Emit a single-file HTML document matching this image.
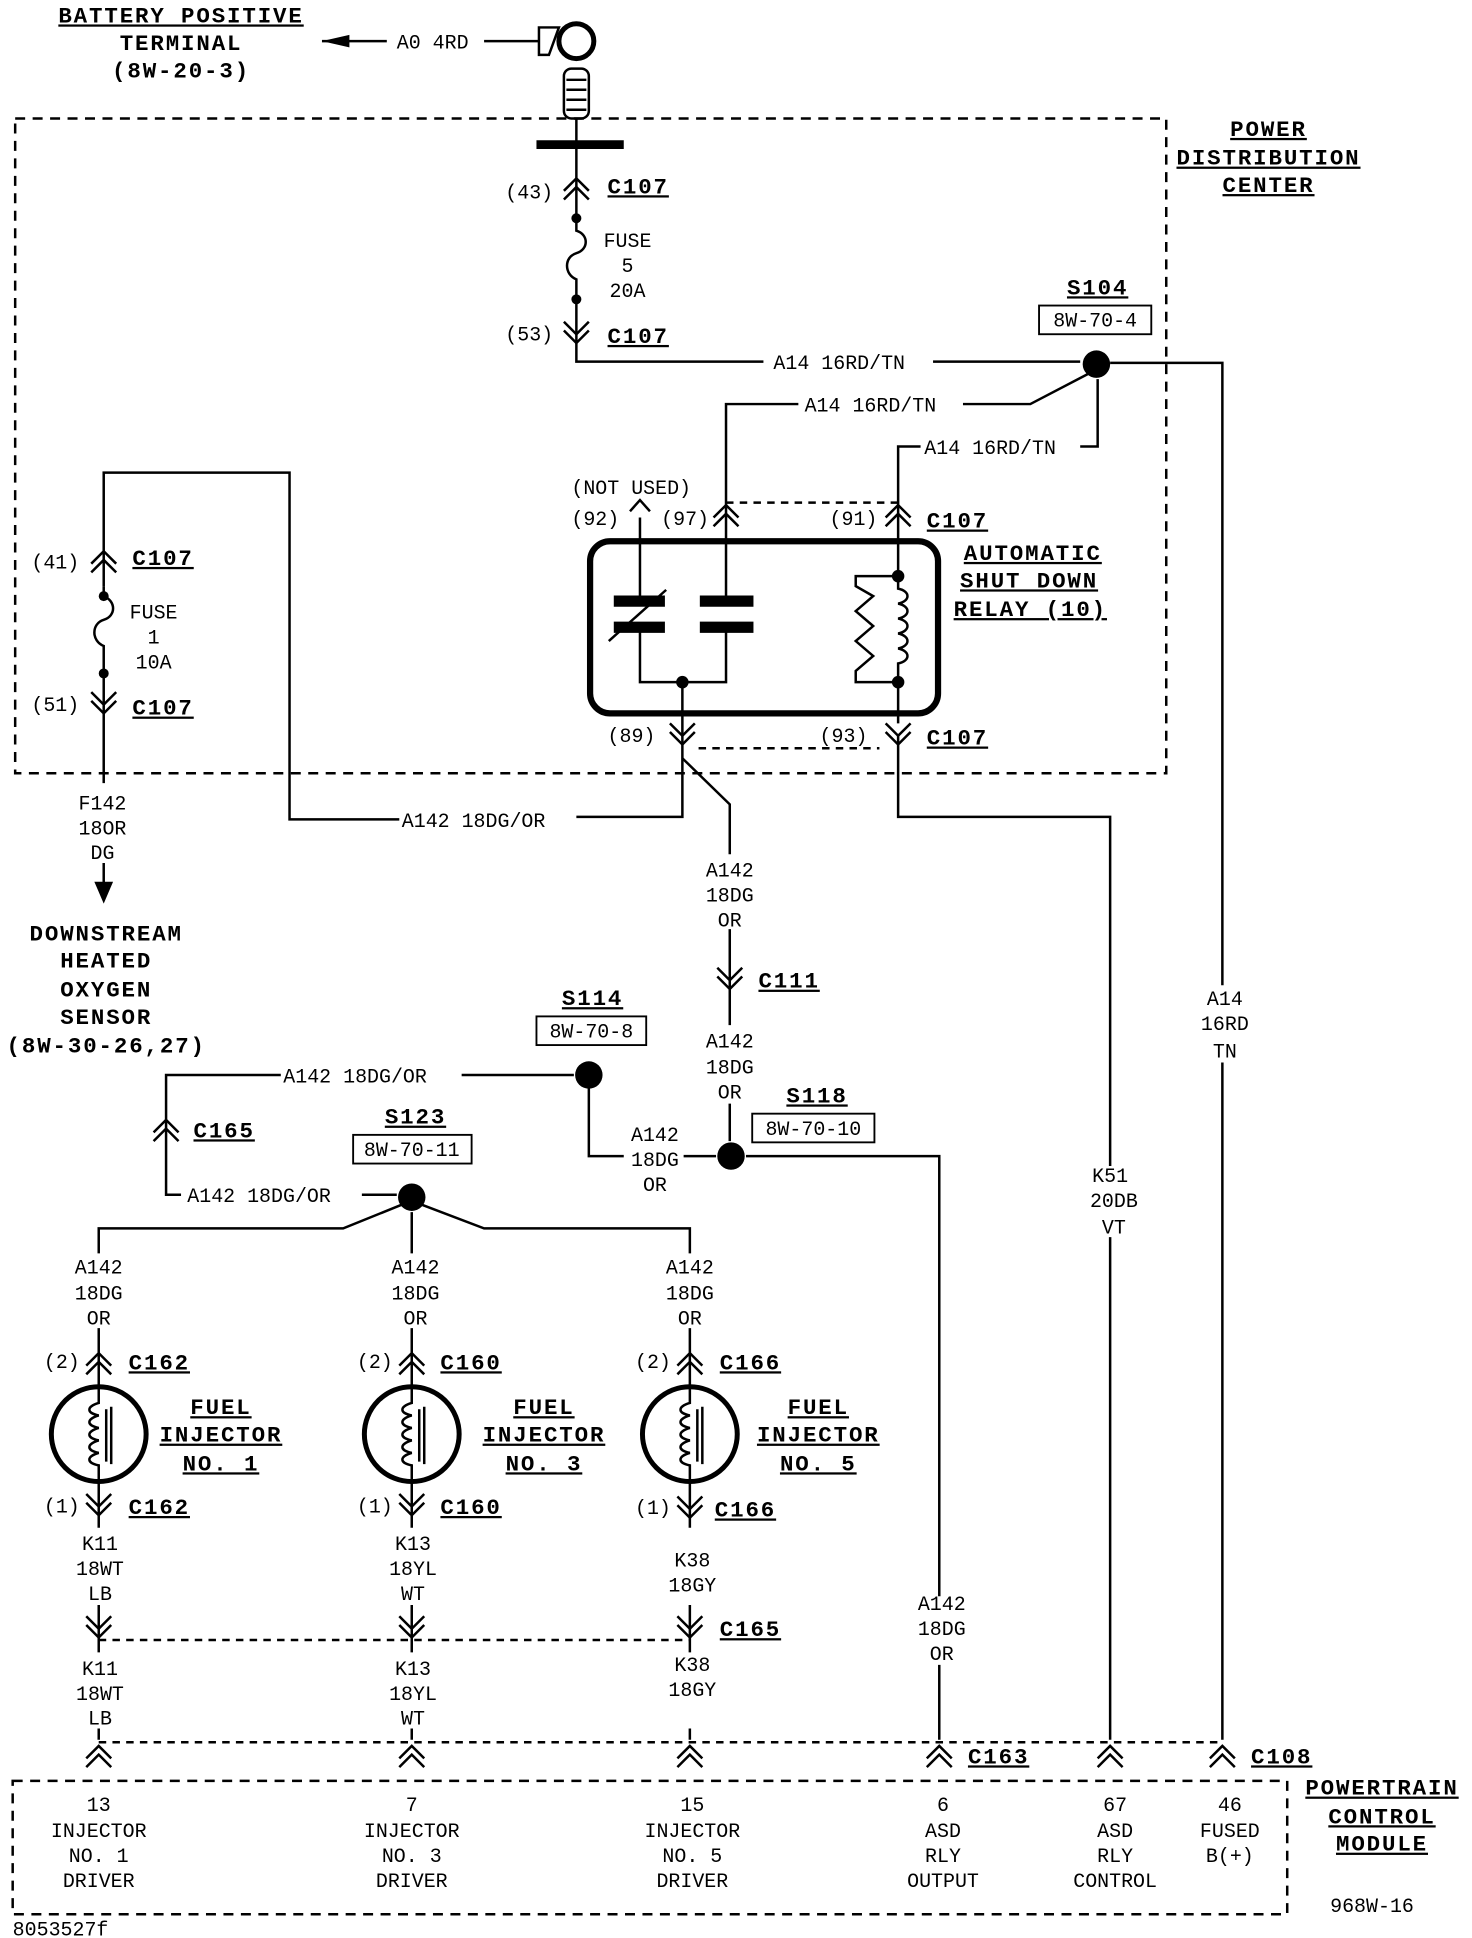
<!DOCTYPE html>
<html><head><meta charset="utf-8"><style>
html,body{margin:0;padding:0;background:#fff;}
svg{display:block;}
text{font-family:"Liberation Mono",monospace;font-size:16px;fill:#000;}
.b{font-family:"Liberation Mono",monospace;font-weight:bold;font-size:18px;letter-spacing:1.5px;text-decoration:underline;}
.c{text-anchor:middle;}
</style></head><body>
<svg width="1472" height="1938" viewBox="0 0 1180 1554" xmlns="http://www.w3.org/2000/svg">
<defs>
<path id="up" d="M-10,5 L0,-5 L10,5 M-10,12 L0,2 L10,12" fill="none" stroke="#000" stroke-width="2"/>
<path id="dn" d="M-10,-12 L0,-2 L10,-12 M-10,-5 L0,5 L10,-5" fill="none" stroke="#000" stroke-width="2"/>
</defs>
<g fill="none" stroke="#000" stroke-width="2">
<rect x="12" y="95" width="923" height="525" stroke-dasharray="8,6"/>
<path d="M258,33 L310,33 M388,33 L432,33"/>
<path d="M432,22 L448,22 L440,44 L432,44 Z"/>
<circle cx="462" cy="33" r="14" stroke-width="4"/>
<rect x="452" y="55" width="20" height="40" rx="6"/>
<path d="M454,64 H470 M454,72 H470 M454,80 H470 M454,88 H470"/>
<path d="M430,116 H500" stroke-width="7"/>
<path d="M462,95 V175 M462,240 V290 H612 M748,290 H866"/>
<path d="M462,175 V185 C472,188 472,200 462,203 C452,206 452,220 462,224 V240"/>
<path d="M890,291 H980 V790 M980,852 V1395"/>
<path d="M872,300 L826,324 H772 M640,324 H582 V415"/>
<path d="M880,304 V358 H866 M738,358 H720 V415"/>
<path d="M582,403 H720" stroke-dasharray="6,5"/>
<path d="M513,415 V480 M513,505 V547 H582 V505 M582,480 V415"/>
<path d="M505,410 L513,401 L521,410"/>
<rect x="473" y="434" width="279" height="138" rx="16" stroke-width="5"/>
<path d="M492,482 H533 M492,503 H533 M561,482 H604 M561,503 H604" stroke-width="9"/>
<path d="M488,514 L534,473"/>
<path d="M720,415 V462 H686 V470 L700,478 L686,490 L700,502 L686,514 L700,526 L686,538 V547 H720 V580"/>
<path d="M720,462 V472 C730,474 730,482 720,484 C730,486 730,494 720,496 C730,498 730,506 720,508 C730,510 730,518 720,520 C730,522 730,530 720,532 V547"/>
<path d="M547,547 V655 H462 M320,657 H232 V379 H83 V470"/>
<path d="M560,600 H705" stroke-dasharray="6,5"/>
<path d="M547,608 L585,645 V685 M585,745 V822 M585,885 V915"/>
<path d="M720,590 V655 H890 V935 M890,992 V1395"/>
<path d="M83,470 V478 C93,482 93,494 83,497 C73,500 73,514 83,518 V540 V628"/>
<path d="M83,692 V718"/><path d="M77,708 L83,722 L89,708 Z" fill="#000"/>
<path d="M598,927 H753 V1280 M753,1335 V1395 M548,927 H574 M500,927 H472 V870"/>
<path d="M460,862 H370 M225,862 H133 V958 H145 M290,958 H318"/>
<path d="M322,966 L275,985 H79 V1005 M338,966 L388,985 H553 V1005 M330,972 V1005"/>
<g id="inj1">
<path d="M79,1065 V1112 M79,1188 V1225 M79,1287 V1325 M79,1386 V1395"/>
<circle cx="79" cy="1150" r="38" stroke-width="4"/>
<path d="M79,1112 V1125 C69,1128 69,1133 79,1135 C69,1138 69,1143 79,1145 C69,1148 69,1153 79,1155 C69,1158 69,1163 79,1165 C69,1168 69,1173 79,1175 V1188"/>
<path d="M85,1130 V1172 M89,1128 V1174"/>
</g>
<use href="#inj1" x="251"/>
<use href="#inj1" x="474"/>
<path d="M79,1315 H553" stroke-dasharray="6,5"/>
<path d="M79,1397 H980" stroke-dasharray="6,5"/>
<path d="M10,1428 H1032 V1535 H10 Z" stroke-dasharray="8,6"/>
</g>
<g fill="#000">
<path d="M258,33 L280,28 L280,38 Z"/>
<circle cx="879" cy="292" r="11"/><circle cx="472" cy="862" r="11"/><circle cx="586" cy="927" r="11"/><circle cx="330" cy="960" r="11"/>
<circle cx="462" cy="175" r="4"/><circle cx="462" cy="240" r="4"/><circle cx="83" cy="478" r="4"/><circle cx="83" cy="540" r="4"/>
<circle cx="547" cy="547" r="5"/><circle cx="720" cy="462" r="5"/><circle cx="720" cy="547" r="5"/>
</g>
<use href="#up" x="462" y="148"/><use href="#dn" x="462" y="270"/>
<use href="#up" x="83" y="447"/><use href="#dn" x="83" y="567"/>
<use href="#up" x="582" y="410"/><use href="#up" x="720" y="410"/>
<use href="#dn" x="547" y="592"/><use href="#dn" x="720" y="592"/>
<use href="#dn" x="585" y="788"/><use href="#up" x="133" y="903"/>
<use href="#up" x="79" y="1090"/><use href="#up" x="330" y="1090"/><use href="#up" x="553" y="1090"/>
<use href="#dn" x="79" y="1210"/><use href="#dn" x="330" y="1210"/><use href="#dn" x="553" y="1212"/>
<use href="#dn" x="79" y="1308"/><use href="#dn" x="330" y="1308"/><use href="#dn" x="553" y="1308"/>
<use href="#up" x="79" y="1405"/><use href="#up" x="330" y="1405"/><use href="#up" x="553" y="1405"/>
<use href="#up" x="753" y="1405"/><use href="#up" x="890" y="1405"/><use href="#up" x="980" y="1405"/>
<g fill="none" stroke="#000" stroke-width="1.5">
<rect x="833" y="245" width="90" height="23"/><rect x="430" y="815" width="88" height="23"/>
<rect x="603" y="893" width="98" height="23"/><rect x="283" y="910" width="95" height="23"/>
</g>
<text class="b c" x="145" y="18">BATTERY POSITIVE</text>
<text class="b c" x="145" y="40" style="text-decoration:none">TERMINAL</text>
<text class="b c" x="145" y="62" style="text-decoration:none">(8W-20-3)</text>
<text x="318" y="39">A0 4RD</text>
<text class="b c" x="1017" y="109">POWER</text><text class="b c" x="1017" y="132">DISTRIBUTION</text><text class="b c" x="1017" y="154">CENTER</text>
<text x="405" y="159">(43)</text><text class="b" x="487" y="155">C107</text>
<text class="c" x="503" y="198">FUSE</text><text class="c" x="503" y="218">5</text><text class="c" x="503" y="238">20A</text>
<text x="405" y="273">(53)</text><text class="b" x="487" y="275">C107</text>
<text x="620" y="296">A14 16RD/TN</text>
<text class="b c" x="880" y="236">S104</text><text class="c" x="878" y="262">8W-70-4</text>
<text x="645" y="330">A14 16RD/TN</text>
<text x="741" y="364">A14 16RD/TN</text>
<text x="458" y="396">(NOT USED)</text>
<text x="458" y="421">(92)</text><text x="530" y="421">(97)</text><text x="665" y="421">(91)</text><text class="b" x="743" y="423">C107</text>
<text class="b c" x="828" y="449">AUTOMATIC</text><text class="b c" x="825" y="471">SHUT DOWN</text><text class="b c" x="826" y="494">RELAY (10)</text>
<text x="487" y="595">(89)</text><text x="657" y="595">(93)</text><text class="b" x="743" y="597">C107</text>
<text x="25" y="456">(41)</text><text class="b" x="106" y="453">C107</text>
<text class="c" x="123" y="496">FUSE</text><text class="c" x="123" y="516">1</text><text class="c" x="123" y="536">10A</text>
<text x="25" y="570">(51)</text><text class="b" x="106" y="573">C107</text>
<text class="c" x="82" y="649">F142</text><text class="c" x="82" y="669">18OR</text><text class="c" x="82" y="689">DG</text>
<text class="b c" x="85" y="754" style="text-decoration:none">DOWNSTREAM</text><text class="b c" x="85" y="776" style="text-decoration:none">HEATED</text><text class="b c" x="85" y="799" style="text-decoration:none">OXYGEN</text><text class="b c" x="85" y="821" style="text-decoration:none">SENSOR</text><text class="b c" x="85" y="844" style="text-decoration:none">(8W-30-26,27)</text>
<text x="322" y="663">A142 18DG/OR</text>
<text class="c" x="585" y="703">A142</text><text class="c" x="585" y="723">18DG</text><text class="c" x="585" y="743">OR</text>
<text class="b" x="608" y="792">C111</text>
<text class="c" x="585" y="840">A142</text><text class="c" x="585" y="861">18DG</text><text class="c" x="585" y="881">OR</text>
<text class="b c" x="655" y="884">S118</text><text class="c" x="652" y="910">8W-70-10</text>
<text class="c" x="525" y="915">A142</text><text class="c" x="525" y="935">18DG</text><text class="c" x="525" y="955">OR</text>
<text class="b c" x="475" y="806">S114</text><text class="c" x="474" y="832">8W-70-8</text>
<text x="227" y="868">A142 18DG/OR</text>
<text class="b" x="155" y="912">C165</text>
<text x="150" y="964">A142 18DG/OR</text>
<text class="b c" x="333" y="901">S123</text><text class="c" x="330" y="927">8W-70-11</text>
<text class="c" x="982" y="806">A14</text><text class="c" x="982" y="826">16RD</text><text class="c" x="982" y="848">TN</text>
<text class="c" x="890" y="948">K51</text><text class="c" x="893" y="968">20DB</text><text class="c" x="893" y="989">VT</text>
<text class="c" x="79" y="1021">A142</text><text class="c" x="79" y="1042">18DG</text><text class="c" x="79" y="1062">OR</text>
<text class="c" x="333" y="1021">A142</text><text class="c" x="333" y="1042">18DG</text><text class="c" x="333" y="1062">OR</text>
<text class="c" x="553" y="1021">A142</text><text class="c" x="553" y="1042">18DG</text><text class="c" x="553" y="1062">OR</text>
<text x="35" y="1097">(2)</text><text class="b" x="103" y="1098">C162</text>
<text x="286" y="1097">(2)</text><text class="b" x="353" y="1098">C160</text>
<text x="509" y="1097">(2)</text><text class="b" x="577" y="1098">C166</text>
<text class="b c" x="177" y="1134">FUEL</text><text class="b c" x="177" y="1156">INJECTOR</text><text class="b c" x="177" y="1179">NO. 1</text>
<text class="b c" x="436" y="1134">FUEL</text><text class="b c" x="436" y="1156">INJECTOR</text><text class="b c" x="436" y="1179">NO. 3</text>
<text class="b c" x="656" y="1134">FUEL</text><text class="b c" x="656" y="1156">INJECTOR</text><text class="b c" x="656" y="1179">NO. 5</text>
<text x="35" y="1213">(1)</text><text class="b" x="103" y="1214">C162</text>
<text x="286" y="1213">(1)</text><text class="b" x="353" y="1214">C160</text>
<text x="509" y="1214">(1)</text><text class="b" x="573" y="1216">C166</text>
<text class="c" x="80" y="1243">K11</text><text class="c" x="80" y="1263">18WT</text><text class="c" x="80" y="1283">LB</text>
<text class="c" x="331" y="1243">K13</text><text class="c" x="331" y="1263">18YL</text><text class="c" x="331" y="1283">WT</text>
<text class="c" x="555" y="1256">K38</text><text class="c" x="555" y="1276">18GY</text>
<text class="b" x="577" y="1312">C165</text>
<text class="c" x="80" y="1343">K11</text><text class="c" x="80" y="1363">18WT</text><text class="c" x="80" y="1383">LB</text>
<text class="c" x="331" y="1343">K13</text><text class="c" x="331" y="1363">18YL</text><text class="c" x="331" y="1383">WT</text>
<text class="c" x="555" y="1340">K38</text><text class="c" x="555" y="1360">18GY</text>
<text class="c" x="755" y="1291">A142</text><text class="c" x="755" y="1311">18DG</text><text class="c" x="755" y="1331">OR</text>
<text class="b" x="776" y="1414">C163</text><text class="b" x="1003" y="1414">C108</text>
<text class="b c" x="1108" y="1439">POWERTRAIN</text><text class="b c" x="1108" y="1462">CONTROL</text><text class="b c" x="1108" y="1484">MODULE</text>
<text class="c" x="79" y="1452">13</text><text class="c" x="79" y="1473">INJECTOR</text><text class="c" x="79" y="1493">NO. 1</text><text class="c" x="79" y="1513">DRIVER</text>
<text class="c" x="330" y="1452">7</text><text class="c" x="330" y="1473">INJECTOR</text><text class="c" x="330" y="1493">NO. 3</text><text class="c" x="330" y="1513">DRIVER</text>
<text class="c" x="555" y="1452">15</text><text class="c" x="555" y="1473">INJECTOR</text><text class="c" x="555" y="1493">NO. 5</text><text class="c" x="555" y="1513">DRIVER</text>
<text class="c" x="756" y="1452">6</text><text class="c" x="756" y="1473">ASD</text><text class="c" x="756" y="1493">RLY</text><text class="c" x="756" y="1513">OUTPUT</text>
<text class="c" x="894" y="1452">67</text><text class="c" x="894" y="1473">ASD</text><text class="c" x="894" y="1493">RLY</text><text class="c" x="894" y="1513">CONTROL</text>
<text class="c" x="986" y="1452">46</text><text class="c" x="986" y="1473">FUSED</text><text class="c" x="986" y="1493">B(+)</text>
<text class="c" x="1100" y="1533">968W-16</text>
<text x="10" y="1552">8053527f</text>
</svg>
</body></html>
